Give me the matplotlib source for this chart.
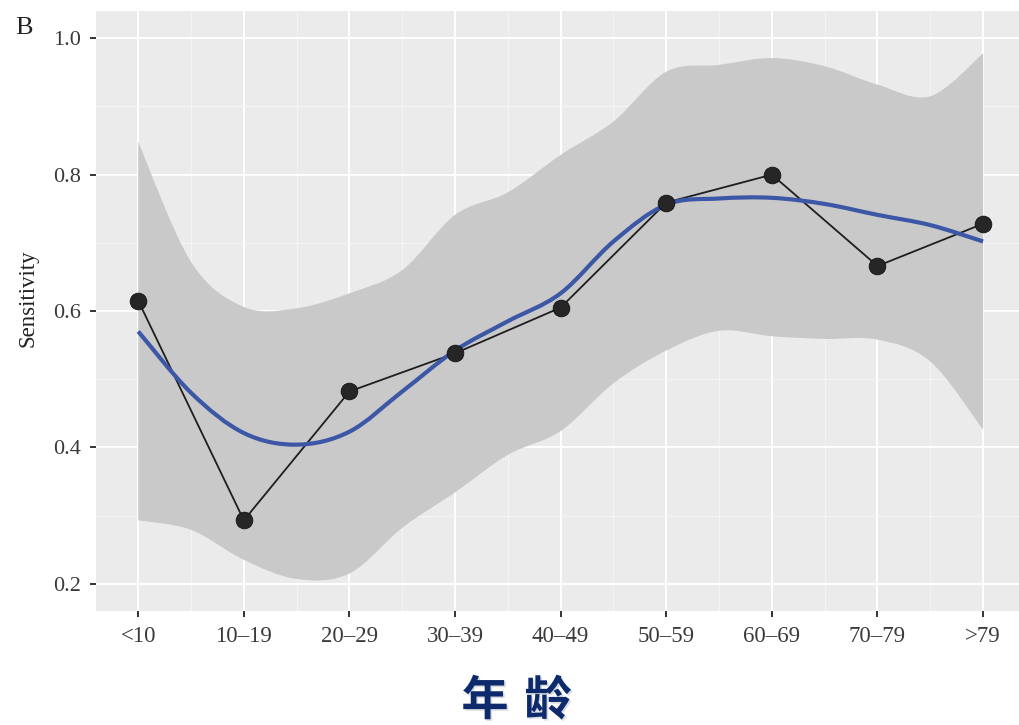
import numpy as np
import matplotlib
matplotlib.use("Agg")
import matplotlib.pyplot as plt
from matplotlib.path import Path
from matplotlib.patches import PathPatch
import matplotlib.patheffects as pe

# Age groups and observed sensitivity
age_groups = ["<10", "10\u201319", "20\u201329", "30\u201339", "40\u201349",
              "50\u201359", "60\u201369", "70\u201379", ">79"]
sensitivity = [0.615, 0.293, 0.482, 0.538, 0.605, 0.759, 0.800, 0.666, 0.728]

# Smoothed trend and its confidence band, sampled every half age group
fit_pos = [0, 0.5, 1, 1.5, 2, 2.5, 3, 3.5, 4, 4.5, 5, 5.5, 6, 6.5, 7, 7.5, 8]
fit_mid = [0.570, 0.480, 0.421, 0.404, 0.423, 0.482, 0.542, 0.585, 0.626,
           0.702, 0.756, 0.765, 0.766, 0.757, 0.741, 0.726, 0.702]
fit_upper = [0.848, 0.672, 0.606, 0.604, 0.626, 0.660, 0.741, 0.774, 0.829,
             0.878, 0.951, 0.961, 0.971, 0.959, 0.932, 0.915, 0.978]
fit_lower = [0.293, 0.279, 0.235, 0.207, 0.215, 0.282, 0.334, 0.389, 0.424,
             0.494, 0.542, 0.571, 0.563, 0.559, 0.558, 0.526, 0.426]

y_ticks = [0.2, 0.4, 0.6, 0.8, 1.0]
y_tick_labels = ["0.2", "0.4", "0.6", "0.8", "1.0"]

x_title_chars = ["年", "龄"]


def smooth_path_vertices(xs, ys):
    """Catmull-Rom spline through the points, as cubic Bezier path pieces."""
    pts = np.column_stack([xs, ys]).astype(float)
    n = len(pts)
    verts = [pts[0]]
    codes = [Path.MOVETO]
    for i in range(n - 1):
        p0 = pts[i - 1] if i > 0 else pts[i]
        p1 = pts[i]
        p2 = pts[i + 1]
        p3 = pts[i + 2] if i + 2 < n else pts[i + 1]
        c1 = p1 + (p2 - p0) / 6.0
        c2 = p2 - (p3 - p1) / 6.0
        verts += [c1, c2, p2]
        codes += [Path.CURVE4] * 3
    return verts, codes


W, H = 1019, 725
fig = plt.figure(figsize=(W / 100, H / 100), dpi=100)
fig.patch.set_facecolor("white")

ax_left, ax_right = 96 / W, 1.0
ax_bottom, ax_top = 1 - 611 / H, 1 - 11 / H
ax = fig.add_axes([ax_left, ax_bottom, ax_right - ax_left, ax_top - ax_bottom])
ax.set_facecolor("#EBEBEB")

x = np.arange(len(age_groups))

# grid: major on ticks, minor in between
ax.set_xticks(x)
ax.set_xticks(np.arange(0.5, 8.0, 1.0), minor=True)
ax.set_yticks(y_ticks)
ax.set_yticks([0.3, 0.5, 0.7, 0.9], minor=True)
ax.set_xlim(-0.40, 8.34)
ax.set_ylim(0.16, 1.04)
ax.grid(which="major", color="white", linewidth=1.4, zorder=0)
ax.grid(which="minor", color="#F5F5F5", linewidth=0.7, zorder=0)
ax.set_axisbelow(True)
for s in ax.spines.values():
    s.set_visible(False)

# confidence band
vu, cu = smooth_path_vertices(fit_pos, fit_upper)
vl, cl = smooth_path_vertices(fit_pos[::-1], fit_lower[::-1])
band_verts = vu + [vl[0]] + vl[1:] + [vu[0]]
band_codes = cu + [Path.LINETO] + cl[1:] + [Path.CLOSEPOLY]
band = PathPatch(Path(band_verts, band_codes), facecolor="#C9C9C9",
                 edgecolor="none", zorder=1)
ax.add_patch(band)

# observed points joined by a thin line
ax.plot(x, sensitivity, color="#1E1E1E", linewidth=1.3, zorder=3)
ax.plot(x, sensitivity, linestyle="none", marker="o", markersize=12,
        markerfacecolor="#262626", markeredgecolor="#111111",
        markeredgewidth=0.6, zorder=4)

# smoothed trend
vm, cm = smooth_path_vertices(fit_pos, fit_mid)
trend = PathPatch(Path(vm, cm), facecolor="none", edgecolor="#3D57A7",
                  linewidth=3.0, capstyle="butt", zorder=3.5)
ax.add_patch(trend)

serif = ["Liberation Serif", "DejaVu Serif"]
ax.set_xticklabels(age_groups, fontsize=16.5, family=serif, color="#3A3A3A")
ax.set_yticklabels(y_tick_labels, fontsize=16, family=serif, color="#3A3A3A")
ax.tick_params(axis="both", which="major", length=4.5, width=1.4,
               color="#333333")
ax.tick_params(axis="x", which="major", pad=6)
ax.tick_params(axis="y", which="major", pad=6)
ax.tick_params(which="minor", length=0)

ax.set_ylabel("Sensitivity", fontsize=16.5, family=serif, color="#222222")
ax.yaxis.set_label_coords(-0.062, (611 - 298) / 600)

fig.text(15 / W, 1 - 28 / H, "B", fontsize=19, family=serif,
         color="#222222", va="center", ha="left")

# axis title below the chart, one glyph at a time for wider spacing
shadow = [pe.withSimplePatchShadow(offset=(1.2, -1.2),
                                   shadow_rgbFace="#AEB3BC", alpha=0.45)]
for cx, ch in zip([485, 548], x_title_chars):
    fig.text(cx / W, 1 - 701 / H, ch, fontsize=34, fontweight="bold",
             family=["Noto Sans CJK SC", "DejaVu Sans"], color="#0D2A6C",
             ha="center", va="center", path_effects=shadow)

fig.savefig("out.png", dpi=100, facecolor="white")
